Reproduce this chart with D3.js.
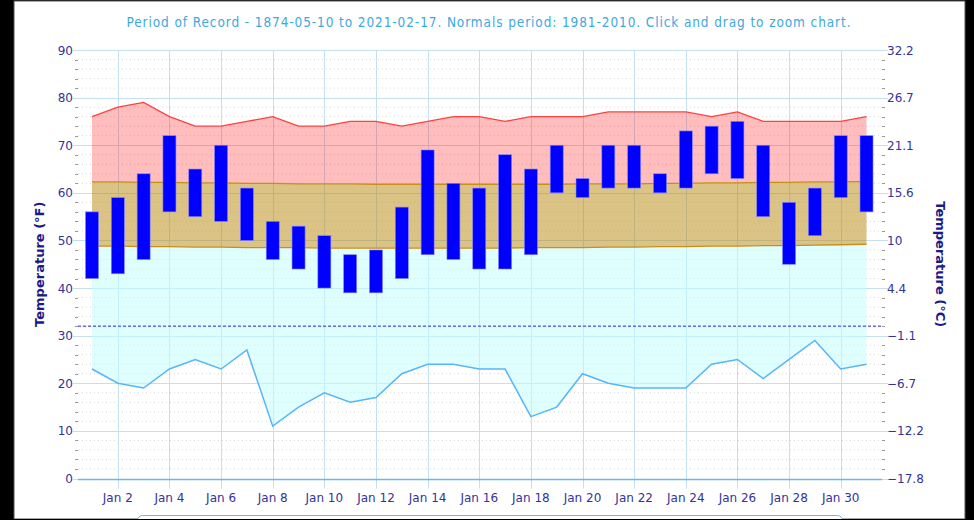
<!DOCTYPE html>
<html>
<head>
<meta charset="utf-8">
<script src="https://cdn.jsdelivr.net/npm/d3@7"></script>
<style>
  html, body { margin: 0; padding: 0; background: #000; }
  svg { display: block; }
</style>
</head>
<body>
<svg id="chart" width="974" height="520"></svg>
<script>
// ---------- DATA ----------
const days = [1,2,3,4,5,6,7,8,9,10,11,12,13,14,15,16,17,18,19,20,21,22,23,24,25,26,27,28,29,30,31];
const recordHigh = [76,78,79,76,74,74,75,76,74,74,75,75,74,75,76,76,75,76,76,76,77,77,77,77,76,77,75,75,75,75,76];
const normalHigh = [62.3,62.3,62.2,62.2,62.1,62.1,62.0,62.0,61.9,61.9,61.9,61.8,61.8,61.8,61.8,61.8,61.8,61.8,61.8,61.9,61.9,61.9,62.0,62.0,62.1,62.1,62.2,62.2,62.3,62.3,62.4];
const normalLow = [48.8,48.8,48.7,48.7,48.6,48.6,48.5,48.5,48.5,48.4,48.4,48.4,48.4,48.4,48.4,48.4,48.4,48.5,48.5,48.5,48.6,48.6,48.7,48.7,48.8,48.8,48.9,48.9,49.0,49.1,49.2];
const recordLow = [23,20,19,23,25,23,27,11,15,18,16,17,22,24,24,23,23,13,15,22,20,19,19,19,24,25,21,25,29,23,24];
const actualHigh = [56,59,64,72,65,70,61,54,53,51,47,48,57,69,62,61,68,65,70,63,70,70,64,73,74,75,70,58,61,72,72];
const actualLow = [42,43,46,56,55,54,50,46,44,40,39,39,42,47,46,44,44,47,60,59,61,61,60,61,64,63,55,45,51,59,56];
const xTickDays = [2,4,6,8,10,12,14,16,18,20,22,24,26,28,30];
const yTicksF = [0,10,20,30,40,50,60,70,80,90];
const yTicksC = ["-17.8","-12.2","-6.7","-1.1","4.4","10","15.6","21.1","26.7","32.2"];
const freezing = 32;
const titleText = "Period of Record - 1874-05-10 to 2021-02-17. Normals period: 1981-2010. Click and drag to zoom chart.";

// ---------- LAYOUT ----------
const W = 974, H = 520;
const plot = { left: 78, right: 882, top: 50, bottom: 478.5 };
const svg = d3.select("#chart");

// frame
svg.append("rect").attr("x", 0).attr("y", 0).attr("width", W).attr("height", H).attr("fill", "#000");
svg.append("rect").attr("x", 14).attr("y", 1).attr("width", 951).attr("height", 518)
   .attr("fill", "#fff").attr("stroke", "#555").attr("stroke-width", 1);

const x = d3.scaleLinear().domain([0.4577, 31.6]).range([plot.left, plot.right]);
const y = d3.scaleLinear().domain([0, 90]).range([plot.bottom, plot.top]);

const tickColor = "#333399";
const font = "'DejaVu Sans', Verdana, sans-serif";

// title
svg.append("text").attr("x", 488.5).attr("y", 27).attr("text-anchor", "middle")
   .attr("font-family", "'DejaVu Sans Condensed', 'DejaVu Sans', sans-serif").attr("font-stretch", "condensed")
   .attr("font-size", 13.5).attr("fill", "#3ea8e2")
   .attr("textLength", 724).attr("lengthAdjust", "spacing").text(titleText);

// minor dotted gridlines every 2 degF
const minorVals = d3.range(0, 91, 2).filter(v => v % 10 !== 0);
const g = svg.append("g");
g.selectAll("line.minor").data(minorVals).enter().append("line")
  .attr("x1", plot.left).attr("x2", plot.right)
  .attr("y1", d => y(d)).attr("y2", d => y(d))
  .attr("stroke", "#d8d8d8").attr("stroke-width", 1).attr("stroke-dasharray", "1,3");
// minor tick marks
[[plot.left - 3, plot.left], [plot.right, plot.right + 3]].forEach(([a, b]) => {
  g.selectAll(null).data(minorVals).enter().append("line")
    .attr("x1", a).attr("x2", b)
    .attr("y1", d => Math.round(y(d)) + 0.5).attr("y2", d => Math.round(y(d)) + 0.5)
    .attr("stroke", "#999").attr("stroke-width", 1);
});

// major horizontal gridlines
g.selectAll("line.major").data(yTicksF).enter().append("line")
  .attr("x1", plot.left - 5).attr("x2", plot.right + 6)
  .attr("y1", d => Math.round(y(d)) + 0.5).attr("y2", d => Math.round(y(d)) + 0.5)
  .attr("stroke", "#c5dff2").attr("stroke-width", 1);

// vertical gridlines
g.selectAll("line.vert").data(xTickDays).enter().append("line")
  .attr("x1", d => Math.round(x(d)) + 0.5).attr("x2", d => Math.round(x(d)) + 0.5)
  .attr("y1", plot.top).attr("y2", plot.bottom + 10)
  .attr("stroke", "#c5dff2").attr("stroke-width", 1);

// ---------- AREAS ----------
const rows = days.map((d, i) => ({ d, rh: recordHigh[i], nh: normalHigh[i], nl: normalLow[i], rl: recordLow[i], ah: actualHigh[i], al: actualLow[i] }));

const areaGen = (top, bot) => d3.area().x(r => x(r.d)).y0(r => y(bot(r))).y1(r => y(top(r)));

svg.append("path").datum(rows).attr("d", areaGen(r => r.rh, r => r.nh))
   .attr("fill", "#ff0000").attr("fill-opacity", 0.26);
svg.append("path").datum(rows).attr("d", areaGen(r => r.nh, r => r.nl))
   .attr("fill", "#b8860b").attr("fill-opacity", 0.5);
svg.append("path").datum(rows).attr("d", areaGen(r => r.nl, r => r.rl))
   .attr("fill", "#c0ffff").attr("fill-opacity", 0.5);

const lineGen = acc => d3.line().x(r => x(r.d)).y(r => y(acc(r)));
svg.append("path").datum(rows).attr("d", lineGen(r => r.rh)).attr("fill", "none")
   .attr("stroke", "#ff4040").attr("stroke-width", 1.3);
svg.append("path").datum(rows).attr("d", lineGen(r => r.nh)).attr("fill", "none")
   .attr("stroke", "#c8901a").attr("stroke-width", 1.3);
svg.append("path").datum(rows).attr("d", lineGen(r => r.nl)).attr("fill", "none")
   .attr("stroke", "#c8901a").attr("stroke-width", 1.3);
svg.append("path").datum(rows).attr("d", lineGen(r => r.rl)).attr("fill", "none")
   .attr("stroke", "#55b6fa").attr("stroke-width", 1.5);

// freezing line
svg.append("line").attr("x1", plot.left).attr("x2", plot.right)
   .attr("y1", y(freezing)).attr("y2", y(freezing))
   .attr("stroke", "#2222ee").attr("stroke-width", 1).attr("stroke-dasharray", "3,2");

// x axis line
svg.append("line").attr("x1", plot.left).attr("x2", plot.right)
   .attr("y1", Math.round(y(0)) + 0.5).attr("y2", Math.round(y(0)) + 0.5)
   .attr("stroke", "#6cb6ea").attr("stroke-width", 1.5);

// ---------- BARS ----------
const bw = 13;
svg.selectAll("rect.bar").data(rows).enter().append("rect")
  .attr("x", r => x(r.d) - bw / 2).attr("width", bw)
  .attr("y", r => y(r.ah)).attr("height", r => y(r.al) - y(r.ah))
  .attr("fill", "#0000ff").attr("stroke", "#8080ff").attr("stroke-width", 0.6);

// ---------- AXES LABELS ----------
svg.selectAll("text.yl").data(yTicksF).enter().append("text")
  .attr("x", plot.left - 5).attr("y", d => y(d) + 4.5).attr("text-anchor", "end")
  .attr("font-family", font).attr("font-size", 12).attr("fill", tickColor).text(d => d);

svg.selectAll("text.yr").data(yTicksF).enter().append("text")
  .attr("x", plot.right + 5).attr("y", d => y(d) + 4.5).attr("text-anchor", "start")
  .attr("font-family", font).attr("font-size", 12).attr("fill", tickColor).text((d, i) => yTicksC[i].replace("-", "\u2212"));

svg.selectAll("text.xl").data(xTickDays).enter().append("text")
  .attr("x", d => x(d)).attr("y", plot.bottom + 23).attr("text-anchor", "middle")
  .attr("font-family", font).attr("font-size", 12).attr("fill", tickColor).text(d => "Jan " + d);

svg.append("text").attr("transform", `translate(44,${(plot.top + plot.bottom) / 2}) rotate(-90)`)
   .attr("text-anchor", "middle").attr("font-family", font).attr("font-size", 13).attr("font-weight", "bold")
   .attr("fill", "#1a1a88").text("Temperature (°F)");
svg.append("text").attr("transform", `translate(936,${(plot.top + plot.bottom) / 2}) rotate(90)`)
   .attr("text-anchor", "middle").attr("font-family", font).attr("font-size", 13).attr("font-weight", "bold")
   .attr("fill", "#1a1a88").text("Temperature (°C)");

// legend box (partially visible)
svg.append("rect").attr("x", 137.5).attr("y", 515.5).attr("width", 705).attr("height", 20).attr("rx", 5)
   .attr("fill", "#fff").attr("stroke", "#6cb6ea").attr("stroke-width", 1);
// bottom black strip over the legend box
svg.append("rect").attr("x", 0).attr("y", 519).attr("width", W).attr("height", 1).attr("fill", "#000");
</script>
</body>
</html>
